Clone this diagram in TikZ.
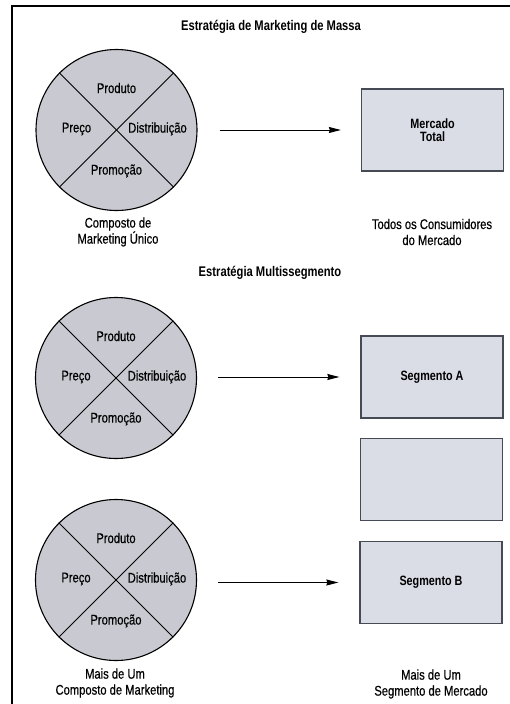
\documentclass[tikz,border=0pt]{standalone}
\usepackage{fontspec}
\setmainfont{Liberation Sans}[FakeStretch=0.8, UprightFeatures={FakeBold=0.5}]
\usetikzlibrary{arrows.meta}
\definecolor{mixfill}{HTML}{C9CAD1}
\definecolor{segfill}{HTML}{DADDE6}
\definecolor{segedge}{HTML}{454A54}

\begin{document}
\begin{tikzpicture}[x=1pt,y=-1pt,
  mix/.style={circle, draw=black, line width=1.1pt, fill=mixfill,
    minimum size=161pt, inner sep=0pt},
  seg/.style={draw=segedge, line width=1.3pt, fill=segfill,
    minimum width=142pt, minimum height=82pt, inner sep=0pt,
    font=\fontsize{13.5}{13.5}\selectfont\bfseries, align=center},
  lbl/.style={font=\fontsize{14}{15}\selectfont, inner sep=0pt},
  captext/.style={font=\fontsize{14}{16}\selectfont, align=center, inner sep=0pt},
  heading/.style={font=\fontsize{14}{15}\selectfont\bfseries, inner sep=0pt},
  cut/.style={line width=0.9pt},
  link/.style={line width=0.9pt, -{Stealth[length=12pt,width=6pt,inset=1pt]}}]

\useasboundingbox (0,0) rectangle (509,704);
\fill[white] (0,0) rectangle (509,704);

% page frame
\draw[line width=2pt] (12,705) -- (12,6) -- (510,6);

% headings
\node[heading] (h1) at (271,27) {Estratégia de Marketing de Massa};
\node[heading] (h2) at (270,273) {Estratégia Multissegmento};

% marketing-mix circles
\foreach \n/\cx/\cy in {c1/116.5/130, c2/116/378, c3/116/580} {
  \node[mix] (\n) at (\cx,\cy) {};
  \draw[cut] (\n.45) -- (\n.225);
  \draw[cut] (\n.135) -- (\n.-45);
  \node[lbl] (\n-prod) at ([shift={(0,-42)}]\n) {Produto};
  \node[lbl] (\n-prec) at ([shift={(-40,-1)}]\n) {Preço};
  \node[lbl] (\n-dist) at ([shift={(41,-1)}]\n) {Distribuição};
  \node[lbl] (\n-prom) at ([shift={(0,41)}]\n) {Promoção};
}

% market boxes
\node[seg] (b1) at (432.5,130) {Mercado\\Total};
\node[seg] (bA) at (432,377) {Segmento A};
\node[seg] (bM) at (431.5,479.5) {};
\node[seg] (bB) at (431,582.5) {Segmento B};

% connectors
\draw[link, shorten <=22pt, shorten >=20pt] (c1.east |- b1.west) -- (b1.west);
\draw[link, shorten <=21pt, shorten >=21pt] (c2.east |- bA.west) -- (bA.west);
\draw[link, shorten <=21pt, shorten >=21pt] (c3.east |- bB.west) -- (bB.west);

% captions
\node[captext] (k1) at (118,232) {Composto de\\Marketing Único};
\node[captext] (k2) at (432,232) {Todos os Consumidores\\do Mercado};
\node[captext] (k3) at (115,683) {Mais de Um\\Composto de Marketing};
\node[captext] (k4) at (431,684) {Mais de Um\\Segmento de Mercado};
\end{tikzpicture}
\end{document}
